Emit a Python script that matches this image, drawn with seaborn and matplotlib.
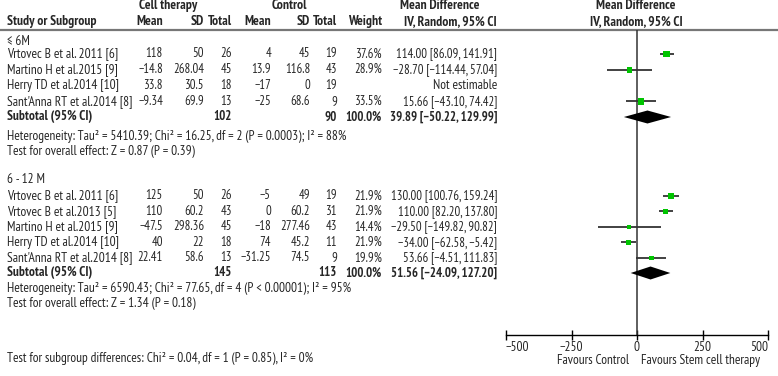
import matplotlib
matplotlib.use("Agg")
import matplotlib.pyplot as plt
import matplotlib.transforms as mtransforms
import seaborn as sns
import pandas as pd

# ---- data: <= 6 months
studies_6m = ["Vrtovec B et al. 2011 [6]", "Martino H et al.2015 [9]",
              "Herry TD et al.2014 [10]", "Sant'Anna RT et al.2014 [8]"]
cell_mean_6m = [118, -14.8, 33.8, -9.34]
cell_sd_6m = [50, 268.04, 30.5, 69.9]
cell_n_6m = [26, 45, 18, 13]
ctrl_mean_6m = [4, 13.9, -17, -25]
ctrl_sd_6m = [45, 116.8, 0, 68.6]
ctrl_n_6m = [19, 43, 19, 9]
weight_6m = [37.6, 28.9, None, 33.5]
md_6m = [114.00, -28.70, None, 15.66]
lo_6m = [86.09, -114.44, None, -43.10]
hi_6m = [141.91, 57.04, None, 74.42]
sub_6m = dict(n1=102, n2=90, md=39.89, lo=-50.22, hi=129.99)
het_6m = "Heterogeneity: Tau² = 5410.39; Chi² = 16.25, df = 2 (P = 0.0003); I² = 88%"
eff_6m = "Test for overall effect: Z = 0.87 (P = 0.39)"

# ---- data: 6 - 12 months
studies_12m = ["Vrtovec B et al. 2011 [6]", "Vrtovec B et al.2013 [5]", "Martino H et al.2015 [9]",
               "Herry TD et al.2014 [10]", "Sant'Anna RT et al.2014 [8]"]
cell_mean_12m = [125, 110, -47.5, 40, 22.41]
cell_sd_12m = [50, 60.2, 298.36, 22, 58.6]
cell_n_12m = [26, 43, 45, 18, 13]
ctrl_mean_12m = [-5, 0, -18, 74, -31.25]
ctrl_sd_12m = [49, 60.2, 277.46, 45.2, 74.5]
ctrl_n_12m = [19, 31, 43, 11, 9]
weight_12m = [21.9, 21.9, 14.4, 21.9, 19.9]
md_12m = [130.00, 110.00, -29.50, -34.00, 53.66]
lo_12m = [100.76, 82.20, -149.82, -62.58, -4.51]
hi_12m = [159.24, 137.80, 90.82, -5.42, 111.83]
sub_12m = dict(n1=145, n2=113, md=51.56, lo=-24.09, hi=127.20)
het_12m = "Heterogeneity: Tau² = 6590.43; Chi² = 77.65, df = 4 (P < 0.00001); I² = 95%"
eff_12m = "Test for overall effect: Z = 1.34 (P = 0.18)"

subgroup_test = "Test for subgroup differences: Chi² = 0.04, df = 1 (P = 0.85), I² = 0%"
xticks = [-500, -250, 0, 250, 500]

sns.set_theme(style="white")
plt.rcParams["font.family"] = ["PT Sans Narrow", "DejaVu Sans"]
FS_TXT = 9.6
FS_HEAD = 9.7
FS_NUM = 9.2
GREEN = "#00c400"

W, H = 778, 376
fig = plt.figure(figsize=(W / 100, H / 100), dpi=100)
# forest panel: y axis in pixel rows from top of figure
ax = fig.add_axes([506 / W, (H - 335) / H, 262 / W, 305 / H])
ax.set_xlim(-500, 500)
ax.set_ylim(335, 30)
tr = mtransforms.blended_transform_factory(fig.transFigure, ax.transData)


def put(px, y, s, ha="right", bold=False, fs=FS_NUM):
    ax.text(px / W, y, s, transform=tr, ha=ha, va="center", fontsize=fs,
            fontweight="bold" if bold else "normal", clip_on=False)


def num(v):
    return "" if v is None else f"{v:g}".replace("-", "−")


def ci(m, lo, hi):
    return f"{m:.2f} [{lo:.2f}, {hi:.2f}]".replace("-", "−")


cols = [163, 204, 232, 271, 310, 337, 382, 497]

# headers
put(168, 6, "Cell therapy", ha="center", bold=True, fs=FS_HEAD)
put(289, 6, "Control", ha="center", bold=True, fs=FS_HEAD)
put(440, 6, "Mean Difference", ha="center", bold=True, fs=FS_HEAD)
put(636, 6, "Mean Difference", ha="center", bold=True, fs=FS_HEAD)
put(7, 22, "Study or Subgroup", ha="left", bold=True, fs=FS_HEAD)
for px, s in zip(cols, ["Mean", "SD", "Total", "Mean", "SD", "Total", "Weight", "IV, Random, 95% CI"]):
    put(px, 22, s, bold=True, fs=FS_HEAD)
put(636, 22, "IV, Random, 95% CI", ha="center", bold=True, fs=FS_HEAD)
ax.plot([0, 1], [30, 30], transform=tr, color="#777777", lw=1.6, clip_on=False)


def block(label, y0, ys, studies, cm, cs, cn, km, ks, kn, w, md, lo, hi, sub, het, eff, ysub, yhet, yeff):
    put(7, y0, label, ha="left", fs=FS_TXT)
    for i, y in enumerate(ys):
        put(7, y, studies[i], ha="left", fs=FS_TXT)
        vals = [num(cm[i]), num(cs[i]), num(cn[i]), num(km[i]), num(ks[i]), num(kn[i]),
                "" if w[i] is None else f"{w[i]:.1f}%"]
        for px, s in zip(cols, vals):
            put(px, y, s)
        if md[i] is None:
            put(cols[7], y, "Not estimable", fs=FS_TXT)
        else:
            put(cols[7], y, ci(md[i], lo[i], hi[i]))
    put(7, ysub, "Subtotal (95% CI)", ha="left", bold=True, fs=FS_TXT)
    put(cols[2], ysub, str(sub["n1"]), bold=True)
    put(cols[5], ysub, str(sub["n2"]), bold=True)
    put(cols[6], ysub, "100.0%", bold=True)
    put(cols[7], ysub, ci(sub["md"], sub["lo"], sub["hi"]), bold=True)
    put(7, yhet, het, ha="left", fs=FS_TXT)
    put(7, yeff, eff, ha="left", fs=FS_TXT)

    df = pd.DataFrame({"y": ys, "md": md, "lo": lo, "hi": hi, "w": w}).dropna()
    ax.hlines(df["y"], df["lo"], df["hi"], color="#333333", lw=1.3, zorder=3)
    sns.scatterplot(x=df["md"], y=df["y"], marker="s", color=GREEN, edgecolor="none",
                    s=(1.1 * df["w"] ** 0.5 * 0.72) ** 2, ax=ax, legend=False, zorder=4)
    h = 6.5
    ax.fill([sub["lo"], sub["md"], sub["hi"], sub["md"]], [ysub, ysub - h, ysub, ysub + h],
            color="black", lw=0, zorder=4)


block("≤ 6M", 42, [54, 69.8, 85.6, 101.4], studies_6m, cell_mean_6m, cell_sd_6m, cell_n_6m,
      ctrl_mean_6m, ctrl_sd_6m, ctrl_n_6m, weight_6m, md_6m, lo_6m, hi_6m, sub_6m,
      het_6m, eff_6m, 117, 137, 152)
block("6 - 12 M", 180, [196, 211.5, 227, 242.5, 258], studies_12m, cell_mean_12m, cell_sd_12m,
      cell_n_12m, ctrl_mean_12m, ctrl_sd_12m, ctrl_n_12m, weight_12m, md_12m, lo_12m, hi_12m,
      sub_12m, het_12m, eff_12m, 273, 289, 304)
put(7, 359, subgroup_test, ha="left", fs=FS_TXT)

ax.axvline(0, color="#333333", lw=1.1, zorder=2)
for side in ["top", "left", "right"]:
    ax.spines[side].set_visible(False)
ax.spines["bottom"].set_color("black")
ax.spines["bottom"].set_linewidth(1.0)
ax.set_yticks([])
ax.set_xticks(xticks)
ax.set_xticklabels([num(t) for t in xticks], fontsize=FS_TXT)
ax.tick_params(axis="x", direction="inout", length=7, width=1, color="black", pad=1, bottom=True)
labs = ax.get_xticklabels()
labs[0].set_ha("left")
labs[-1].set_ha("right")
ax.set_xlabel("")
ax.set_ylabel("")
ax.text(-30, 361, "Favours Control", ha="right", va="center", fontsize=FS_TXT, clip_on=False)
ax.text(14, 361, "Favours Stem cell therapy", ha="left", va="center", fontsize=FS_TXT, clip_on=False)

fig.savefig("out.png", dpi=100)
